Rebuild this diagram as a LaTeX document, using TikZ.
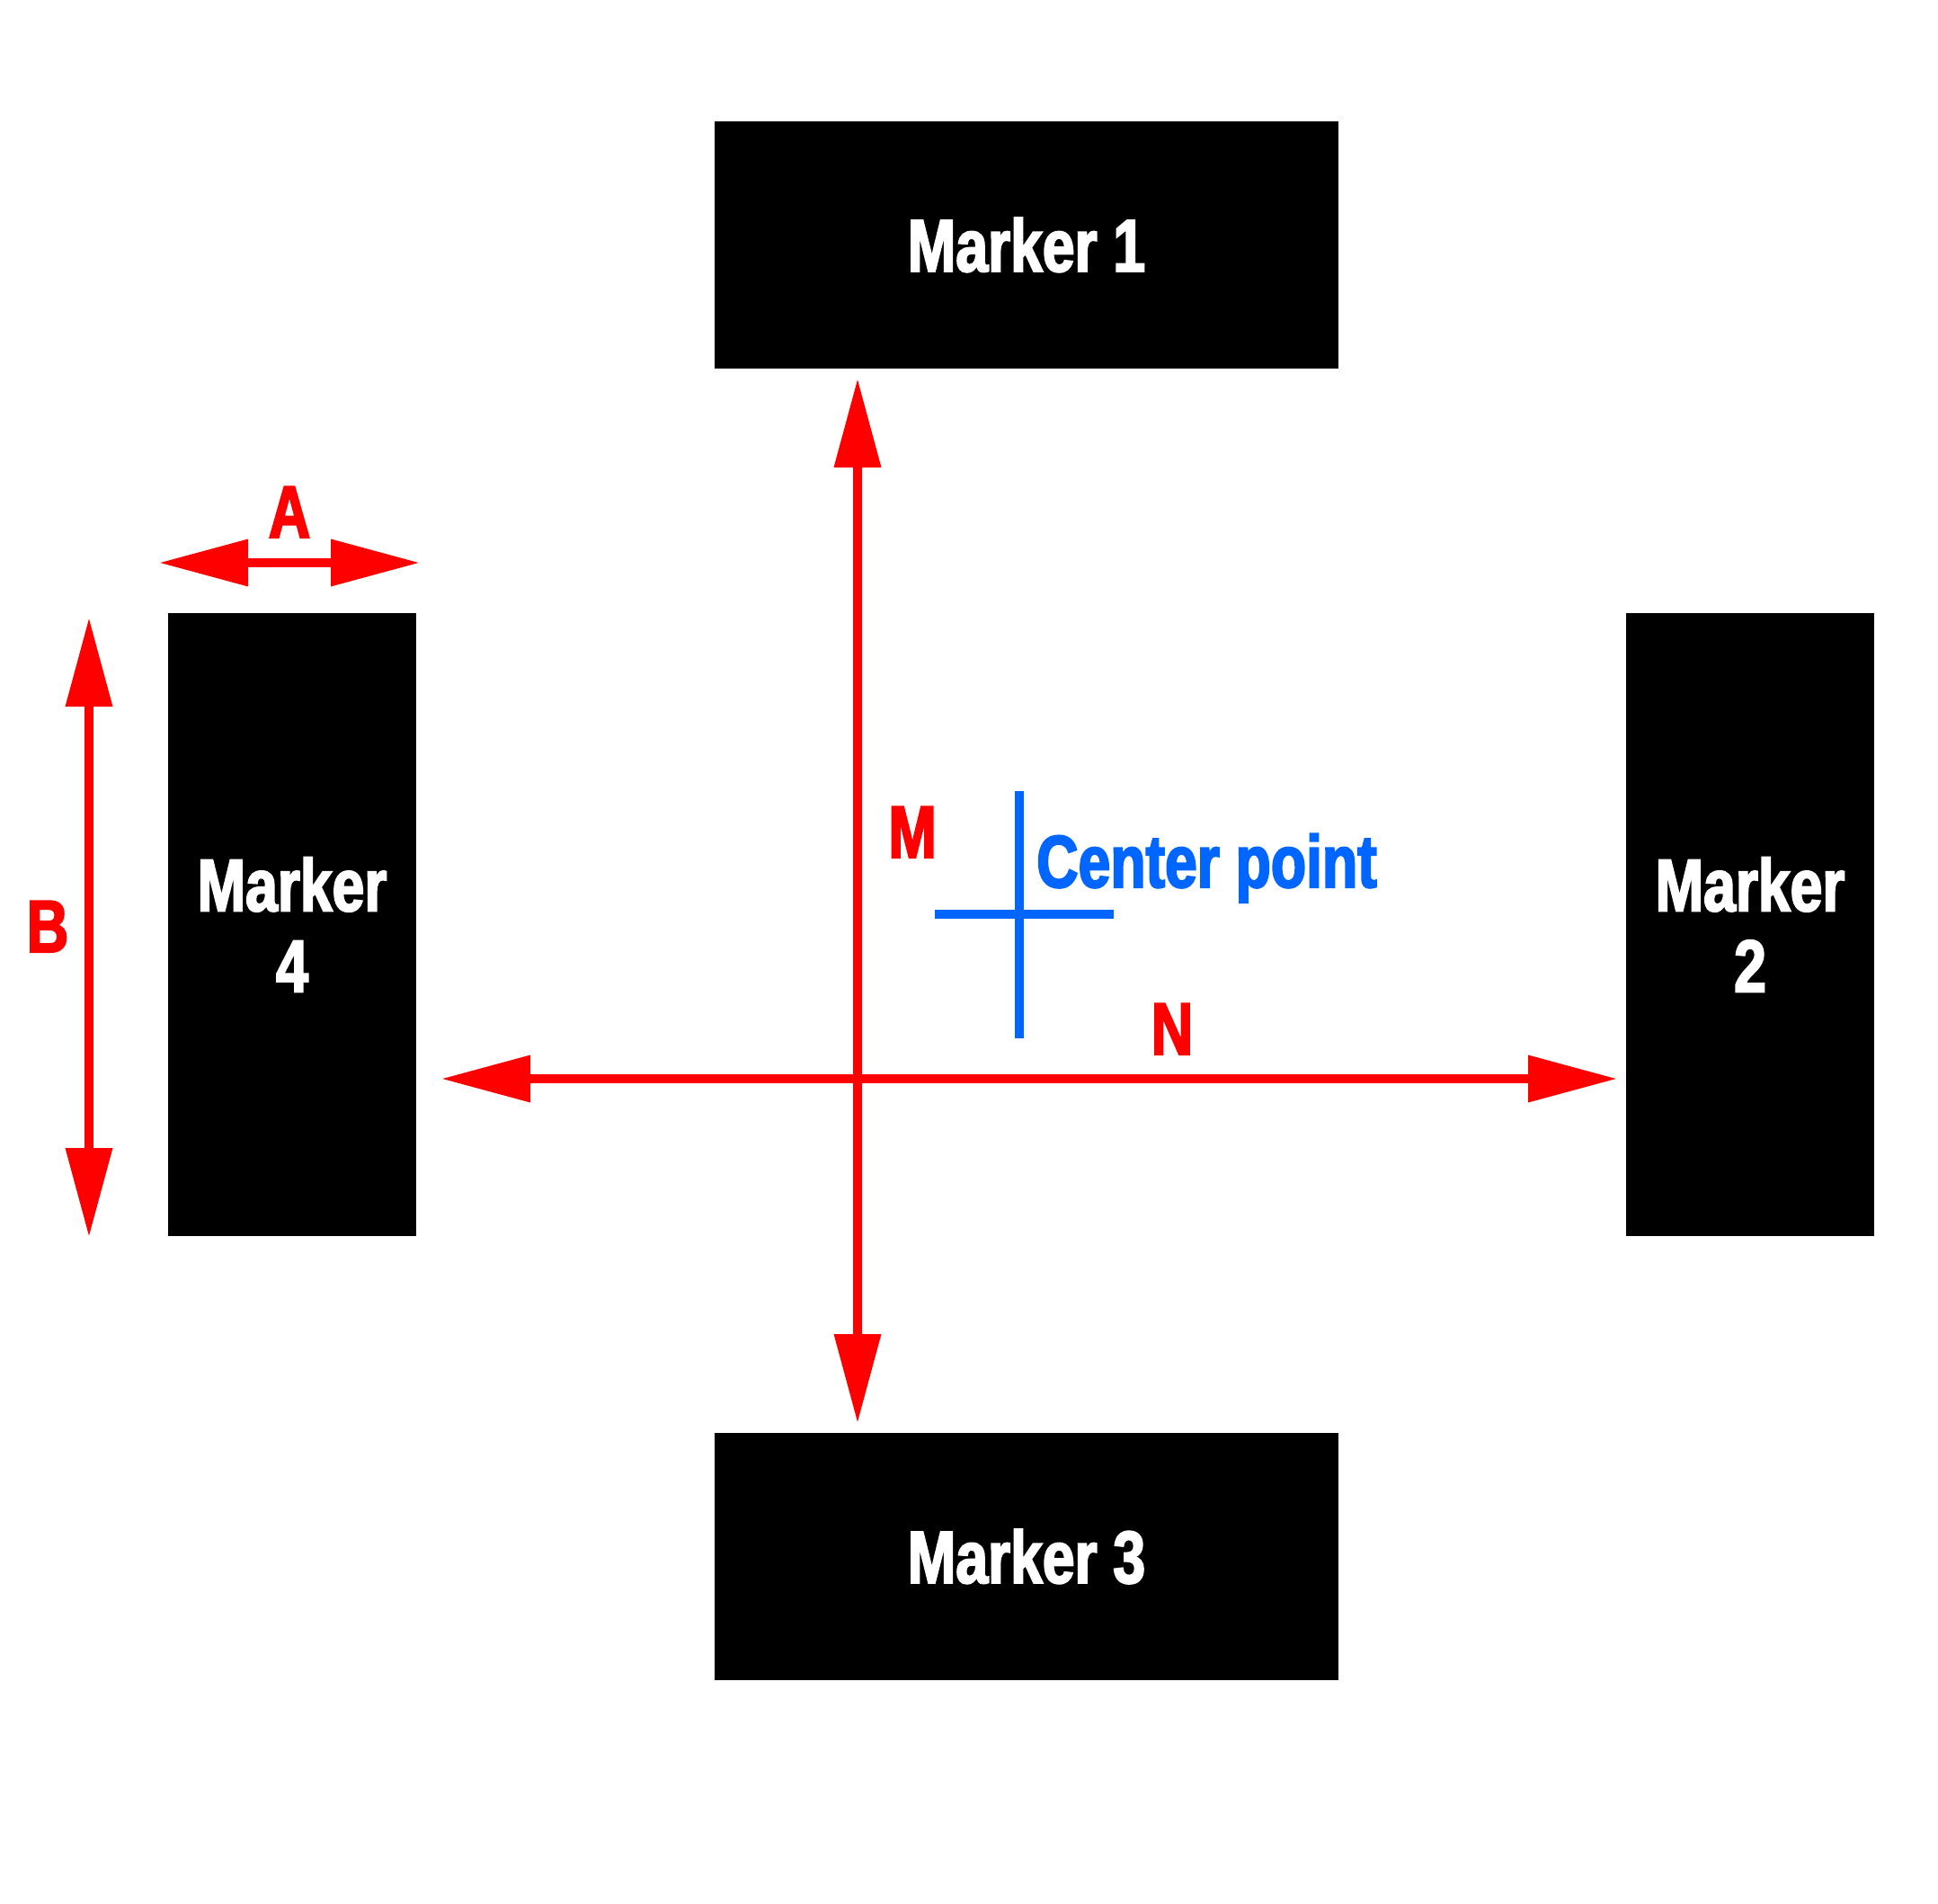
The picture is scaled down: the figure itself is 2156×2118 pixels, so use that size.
\documentclass[tikz,border=0pt]{standalone}
\usepackage{fontspec}
\usetikzlibrary{arrows.meta}
\newfontfamily\impactlike{Liberation Sans Bold}[FakeStretch=0.78, FakeBold=2.5]
\newcommand\mfont{\impactlike\fontsize{82.4}{90}\selectfont}
\definecolor{cblue}{RGB}{0,102,255}
\definecolor{dimred}{RGB}{255,0,0}
\begin{document}
\begin{tikzpicture}[x=1pt,y=-1pt,
  markerbox/.style={fill=black, draw=none, text=white, font=\mfont, align=center, inner sep=0pt},
  dimline/.style={draw=dimred, line width=10pt, {Triangle[length=99pt,width=50pt]}-{Triangle[length=99pt,width=50pt]}},
  bluestroke/.style={draw=cblue, line width=10pt},
  lbl/.style={text=dimred, font=\mfont, anchor=base, inner sep=0pt}]
\path[fill=white] (0,0) rectangle (2156,2118);
\useasboundingbox (0,0) rectangle (2156,2118);
% markers
\node[markerbox, minimum width=694pt, minimum height=275pt] (m1) at (1142,272.5) {Marker 1};
\node[markerbox, minimum width=694pt, minimum height=275pt] (m3) at (1142,1731.5) {Marker 3};
\node[markerbox, minimum width=276pt, minimum height=693pt] (m4) at (325,1028.5) {Marker\\4};
\node[markerbox, minimum width=276pt, minimum height=693pt] (m2) at (1947,1028.5) {Marker\\2};
% dimension arrow end points
\coordinate (mt) at (954,421);
\coordinate (mb) at (954,1583);
\coordinate (nl) at (491,1200);
\coordinate (nr) at (1799,1200);
\coordinate (al) at (177,626);
\coordinate (ar) at (467,626);
\coordinate (bt) at (99,687);
\coordinate (bb) at (99,1376);
\draw[dimline] (mt) -- (mb);
\draw[dimline] (nl) -- (nr);
\draw[dimline] (al) -- (ar);
\draw[dimline] (bt) -- (bb);
% center cross
\coordinate (ct) at (1134,880);
\coordinate (cb) at (1134,1155);
\coordinate (cl) at (1040,1017);
\coordinate (cr) at (1239,1017);
\draw[bluestroke] (ct) -- (cb);
\draw[bluestroke] (cl) -- (cr);
% labels
\node[lbl] (lm) at (1015,954) {M};
\node[lbl] (ln) at (1304,1173) {N};
\node[lbl] (la) at (322,598) {A};
\node[lbl] (lb) at (53,1059) {B};
\node[lbl, text=cblue, anchor=base west] (cp) at (1153,987) {Center point};
\end{tikzpicture}
\end{document}
